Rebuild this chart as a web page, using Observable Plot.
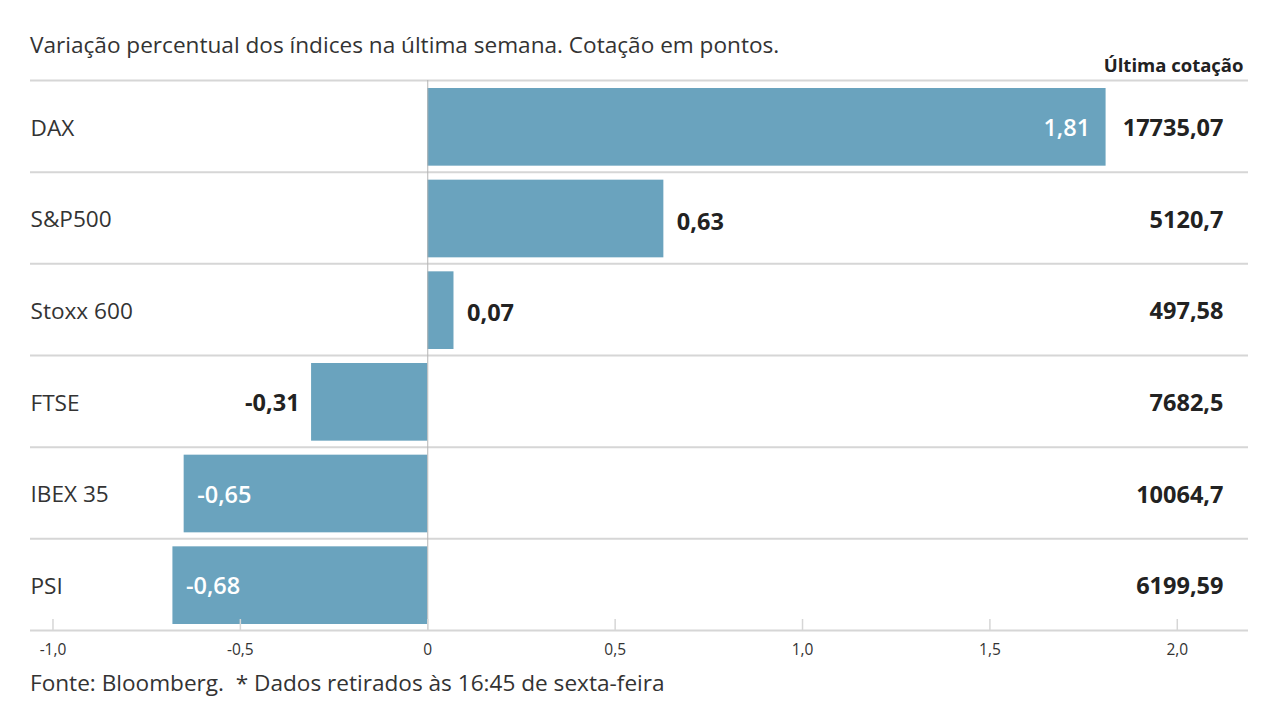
<!DOCTYPE html>
<html>
<head>
<meta charset="utf-8">
<script src="https://cdn.jsdelivr.net/npm/d3@7"></script>
<script src="https://cdn.jsdelivr.net/npm/@observablehq/plot@0.6"></script>
<style>
  body { margin: 0; background: #fff; font-family: "Open Sans", sans-serif; }
  #wrap { position: relative; width: 1279px; height: 721px; overflow: hidden; }
  #title { position: absolute; left: 30px; top: 32px; font-size: 22.6px; line-height: 26px; color: #333; white-space: nowrap; }
  #chart { position: absolute; left: 0; top: 50px; }
  #caption { position: absolute; left: 30px; top: 670px; font-size: 22.6px; line-height: 26px; color: #333; white-space: nowrap; }
  svg text { font-family: "Open Sans", sans-serif; }
</style>
</head>
<body>
<div id="wrap">
  <div id="title">Variação percentual dos índices na última semana. Cotação em pontos.</div>
  <div id="chart"></div>
  <div id="caption">Fonte: Bloomberg.&nbsp; * Dados retirados às 16:45 de sexta-feira</div>
</div>
<script>
const names = ["DAX", "S&P500", "Stoxx 600", "FTSE", "IBEX 35", "PSI"];
const changes = [1.81, 0.63, 0.07, -0.31, -0.65, -0.68];
const quotes = [17735.07, 5120.7, 497.58, 7682.5, 10064.7, 6199.59];
const xTicks = [-1, -0.5, 0, 0.5, 1, 1.5, 2];
const quoteHeader = "Última cotação";

const rows = names.map((name, i) => ({name, i, v: changes[i], q: quotes[i]}));
const commaNum = (v) => String(v).replace(".", ",");
const fmtChange = (v) => v.toFixed(2).replace(".", ",");
const fmtTick = (v) => v === 0 ? "0" : v.toFixed(1).replace(".", ",");
const insideThreshold = 0.64;
const inside = (d) => Math.abs(d.v) > insideThreshold;

const W = 1279, H = 616, mt = 30, mb = 36, ml = 30, mr = 31;
const frameH = H - mt - mb;
const barColor = "#6aa3be";
const gridColor = "#d6d6d6";
const boundaries = d3.range(-0.5, names.length - 0.5, 1);

const chart = Plot.plot({
  width: W,
  height: H,
  marginTop: mt,
  marginBottom: mb,
  marginLeft: ml,
  marginRight: mr,
  style: {fontFamily: "Open Sans, sans-serif", background: "transparent", overflow: "visible"},
  x: {domain: [-1.06, 2.19], axis: null, label: null},
  y: {domain: [-0.5, names.length - 0.5], reverse: true, axis: null, label: null},
  marks: [
    Plot.ruleY(boundaries, {y: d => d, stroke: gridColor, strokeWidth: 2}),
    Plot.rectX(rows, {x1: 0, x2: "v", y1: d => d.i - 0.5, y2: d => d.i + 0.5, insetTop: 8, insetBottom: 6, fill: barColor}),
    Plot.ruleX([0], {x: d => d, stroke: "#b5b5b5", strokeWidth: 1}),
    Plot.ruleY([names.length - 0.5], {y: d => d, stroke: gridColor, strokeWidth: 2}),
    Plot.ruleX(xTicks, {x: d => d, insetTop: frameH - 11, stroke: gridColor, strokeWidth: 1.5}),
    Plot.axisX(xTicks, {tickSize: 0, tickPadding: 13, tickFormat: fmtTick, fontSize: 15.5, fill: "#333", label: null}),
    Plot.text(rows, {text: "name", y: "i", frameAnchor: "left", textAnchor: "start", dy: 2, fontSize: 22.6, fill: "#333"}),
    Plot.text(rows, {text: d => commaNum(d.q), y: "i", frameAnchor: "right", textAnchor: "end", dx: -25, dy: 2, fontSize: 23.5, fontWeight: "bold", fill: "#222"}),
    Plot.text([quoteHeader], {text: d => d, frameAnchor: "top-right", lineAnchor: "middle", textAnchor: "end", dx: -5, dy: -14, fontSize: 18.5, fontWeight: "bold", fill: "#222"}),
    // inside labels
    Plot.text(rows.filter(d => inside(d) && d.v > 0), {x: "v", y: "i", text: d => fmtChange(d.v), textAnchor: "end", dx: -16, dy: 2, fontSize: 23.5, fontWeight: 600, fill: "#fff"}),
    Plot.text(rows.filter(d => inside(d) && d.v < 0), {x: "v", y: "i", text: d => fmtChange(d.v), textAnchor: "start", dx: 13, dy: 2, fontSize: 23.5, fontWeight: 600, fill: "#fff"}),
    // outside labels
    Plot.text(rows.filter(d => !inside(d) && d.v >= 0), {x: "v", y: "i", text: d => fmtChange(d.v), textAnchor: "start", dx: 13, dy: 4, fontSize: 23.5, fontWeight: "bold", fill: "#222"}),
    Plot.text(rows.filter(d => !inside(d) && d.v < 0), {x: "v", y: "i", text: d => fmtChange(d.v), textAnchor: "end", dx: -12, dy: 2, fontSize: 23.5, fontWeight: "bold", fill: "#222"})
  ]
});
document.getElementById("chart").appendChild(chart);
</script>
</body>
</html>
